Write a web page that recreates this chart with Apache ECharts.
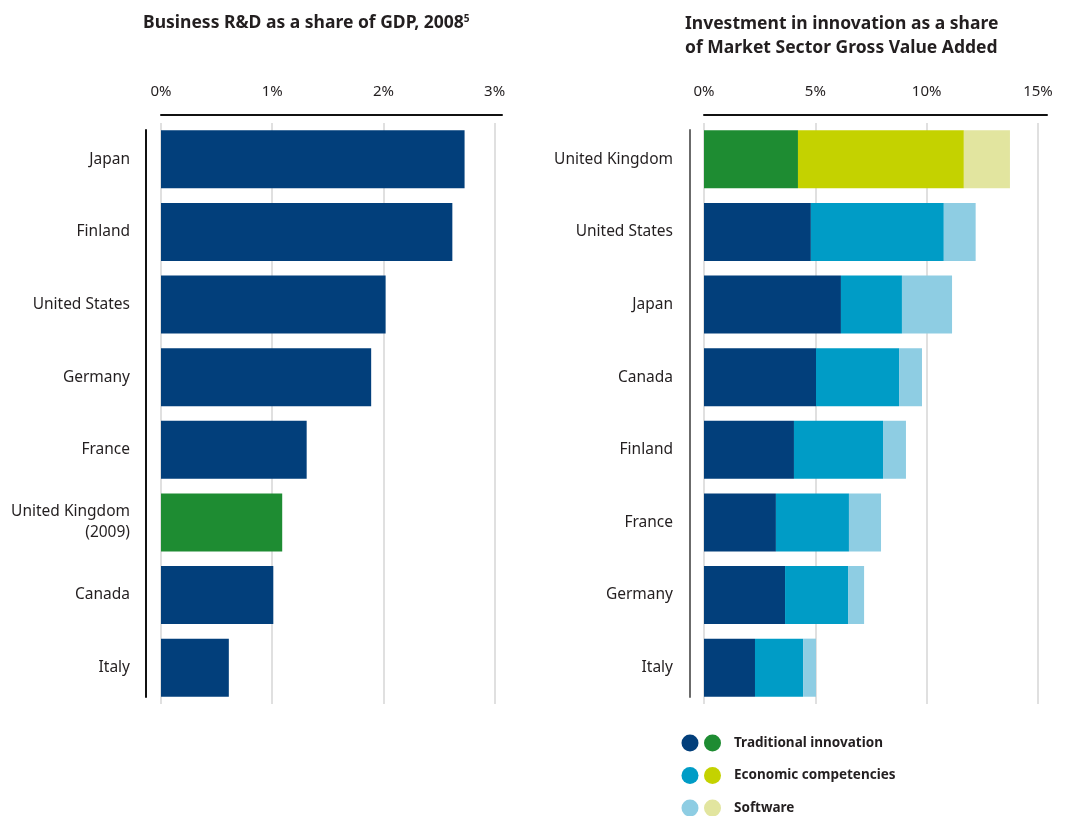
<!DOCTYPE html>
<html>
<head>
<meta charset="utf-8">
<script src="https://cdn.jsdelivr.net/npm/echarts@6/dist/echarts.min.js"></script>
<style>
  html, body { margin: 0; padding: 0; background: #fff; }
  #chart { width: 1069px; height: 816px; }
</style>
</head>
<body>
<div id="chart"></div>
<script>
// Business R&D share of GDP, 2008 (UK figure is for 2009)
const rdCountries = ['Japan', 'Finland', 'United States', 'Germany', 'France', 'United Kingdom\n(2009)', 'Canada', 'Italy'];
const rdShare = [2.73, 2.62, 2.02, 1.89, 1.31, 1.09, 1.01, 0.61];

// Investment in innovation as a share of market sector GVA, by component
const innovCountries = ['United Kingdom', 'United States', 'Japan', 'Canada', 'Finland', 'France', 'Germany', 'Italy'];
const traditional = [4.22, 4.80, 6.15, 5.03, 4.04, 3.23, 3.64, 2.29];
const economic = [7.45, 5.97, 2.74, 3.73, 4.00, 3.28, 2.83, 2.16];
const software = [2.07, 1.43, 2.25, 1.03, 1.03, 1.44, 0.72, 0.58];

const rdTicks = [0, 1, 2, 3];
const innovTicks = [0, 5, 10, 15];

const seriesNames = ['Traditional innovation', 'Economic competencies', 'Software'];

// Blue palette for most countries, green palette for the UK
const bluePalette = ['#023f7b', '#009cc6', '#8ecde3'];
const greenPalette = ['#1e8c32', '#c4d200', '#e2e59f'];
const isUK = name => name.indexOf('United Kingdom') === 0;

const FONT = '"Noto Sans", "Open Sans", sans-serif';
const TEXT = '#231f20';

const chart = echarts.init(document.getElementById('chart'), null, { renderer: 'canvas' });

const plotTop = 123, plotHeight = 581;
// Frame grids: rule on top, vertical rule spanning the bars only
const frameTop = 130, frameHeight = 567;

function valueAxis(gridIndex, max, interval) {
  return {
    type: 'value', gridIndex, position: 'top', offset: 8,
    min: 0, max, interval,
    axisLine: { show: false, onZero: false }, axisTick: { show: false },
    axisLabel: { margin: 16, color: TEXT, fontFamily: FONT, fontSize: 15, formatter: v => v + '%' },
    splitLine: { show: true, lineStyle: { color: '#d6d6d6', width: 1.5 } }
  };
}
function frameXAxis(gridIndex) {
  return {
    type: 'value', gridIndex, position: 'top', offset: 15, min: 0, max: 1,
    axisLine: { show: true, onZero: false, lineStyle: { color: '#111', width: 2 } },
    axisTick: { show: false }, axisLabel: { show: false }, splitLine: { show: false }
  };
}
function frameYAxis(gridIndex, offset, lineColor) {
  return {
    type: 'value', gridIndex, position: 'left', offset, min: 0, max: 1,
    axisLine: { show: true, onZero: false, lineStyle: { color: lineColor, width: 2 } },
    axisTick: { show: false }, axisLabel: { show: false }, splitLine: { show: false }
  };
}
function categoryAxis(gridIndex, data) {
  return {
    type: 'category', gridIndex, data, inverse: true, offset: 15,
    axisLine: { show: false, onZero: false },
    axisTick: { show: false },
    axisLabel: { margin: 16, color: TEXT, fontFamily: FONT, fontSize: 15.5, lineHeight: 21, padding: [3, 0, 0, 0] }
  };
}

function stackSeries(values, idx) {
  return {
    type: 'bar', name: seriesNames[idx], xAxisIndex: 1, yAxisIndex: 1,
    stack: 'innov', barCategoryGap: '20%',
    data: values.map((v, i) => ({
      value: v,
      itemStyle: { color: (isUK(innovCountries[i]) ? greenPalette : bluePalette)[idx] }
    }))
  };
}

// Legend: one dot pair per component (blue + green colour), drawn as graphics
const legendGraphics = [];
seriesNames.forEach((name, i) => {
  const cy = 743 + i * 32.5;
  legendGraphics.push(
    { type: 'circle', shape: { cx: 690, cy, r: 8.5 }, style: { fill: bluePalette[i] } },
    { type: 'circle', shape: { cx: 712.5, cy, r: 8.5 }, style: { fill: greenPalette[i] } },
    { type: 'text', x: 734, y: cy, style: { text: name, fill: TEXT, font: 'bold 13.5px ' + FONT, verticalAlign: 'middle' } }
  );
});

chart.setOption({
  animation: false,
  title: [
    {
      text: 'Business R&D as a share of GDP, 2008{sup|5}',
      left: 143, top: 14, padding: 0,
      textStyle: {
        fontFamily: FONT, fontWeight: 'bold', fontSize: 17.5, color: TEXT,
        rich: { sup: { fontFamily: FONT, fontWeight: 'bold', fontSize: 10, color: TEXT, verticalAlign: 'top', padding: [0, 0, 8, 0] } }
      }
    },
    {
      text: 'Investment in innovation as a share\nof Market Sector Gross Value Added',
      left: 685, top: 12, padding: 0,
      textStyle: { fontFamily: FONT, fontWeight: 'bold', fontSize: 17.5, color: TEXT, lineHeight: 24 }
    }
  ],
  grid: [
    { left: 161, width: 333.6, top: plotTop, height: plotHeight },
    { left: 704, width: 334, top: plotTop, height: plotHeight },
    { left: 161, width: 341, top: frameTop, height: frameHeight },
    { left: 704, width: 343, top: frameTop, height: frameHeight }
  ],
  xAxis: [
    valueAxis(0, rdTicks[rdTicks.length - 1], rdTicks[1] - rdTicks[0]),
    valueAxis(1, innovTicks[innovTicks.length - 1], innovTicks[1] - innovTicks[0]),
    frameXAxis(2),
    frameXAxis(3)
  ],
  yAxis: [
    categoryAxis(0, rdCountries),
    categoryAxis(1, innovCountries),
    frameYAxis(2, 15, '#111'),
    frameYAxis(3, 14, '#6b6b6b')
  ],
  series: [
    {
      type: 'bar', name: 'Business R&D', xAxisIndex: 0, yAxisIndex: 0, barCategoryGap: '20%',
      data: rdShare.map((v, i) => ({
        value: v,
        itemStyle: { color: isUK(rdCountries[i]) ? greenPalette[0] : bluePalette[0] }
      }))
    },
    stackSeries(traditional, 0),
    stackSeries(economic, 1),
    stackSeries(software, 2)
  ],
  graphic: legendGraphics
});
</script>
</body>
</html>
